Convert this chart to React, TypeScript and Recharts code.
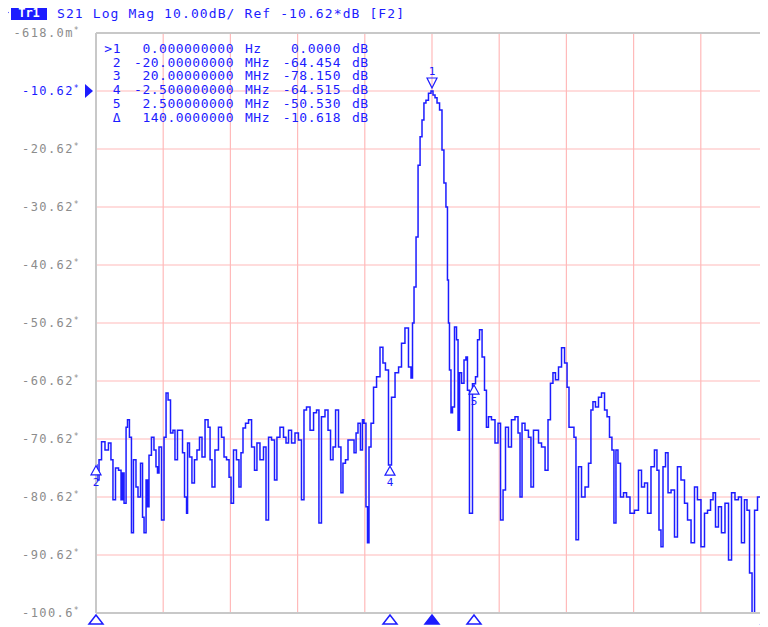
import { LineChart, Line, XAxis, YAxis, CartesianGrid, ReferenceLine, ReferenceDot } from 'recharts'

// S21 sweep, -20..+20 MHz around the carrier: [offset MHz, level dB]
const leftSkirt: [number, number][] = [
  [-20.0, -75.1], [-19.88, -77.7], [-19.76, -74.2], [-19.58, -71.1], [-19.35, -72.5], [-19.17, -71.3],
  [-19.05, -74.2], [-18.93, -81.1], [-18.75, -75.6], [-18.57, -76.0], [-18.45, -81.1], [-18.39, -76.5],
  [-18.27, -81.7], [-18.15, -68.6], [-18.1, -67.3], [-17.92, -70.3], [-17.86, -86.8], [-17.68, -74.2],
  [-17.56, -78.9], [-17.44, -80.6], [-17.26, -74.8], [-17.2, -84.1], [-17.08, -86.8], [-16.96, -77.7],
  [-16.9, -82.3], [-16.79, -73.4], [-16.61, -70.3], [-16.49, -72.5], [-16.37, -75.4], [-16.31, -76.5],
  [-16.19, -72.0], [-16.01, -84.6], [-15.89, -70.3], [-15.77, -62.7], [-15.65, -63.9], [-15.48, -69.6],
  [-15.36, -69.1], [-15.24, -74.2], [-15.06, -69.1], [-14.88, -69.1], [-14.82, -73.0], [-14.64, -80.6],
  [-14.58, -83.4], [-14.52, -71.3], [-14.35, -73.7], [-14.23, -78.2], [-14.05, -74.2], [-13.93, -72.5],
  [-13.75, -70.3], [-13.63, -73.7], [-13.39, -67.3], [-13.27, -68.6], [-13.15, -74.2], [-13.04, -78.9],
  [-12.8, -72.5], [-12.62, -68.6], [-12.44, -70.3], [-12.32, -73.7], [-12.14, -74.2], [-12.02, -77.2],
  [-11.9, -81.7], [-11.73, -72.5], [-11.55, -74.2], [-11.43, -78.9], [-11.31, -73.0], [-11.19, -68.7],
  [-11.01, -67.9], [-10.83, -67.3], [-10.65, -72.0], [-10.48, -76.0], [-10.36, -71.3], [-10.12, -74.2],
  [-9.94, -72.0], [-9.82, -84.6], [-9.64, -70.3], [-9.46, -70.8], [-9.29, -77.7], [-9.17, -70.3],
  [-8.93, -68.6], [-8.75, -70.3], [-8.63, -71.3], [-8.45, -69.1], [-8.27, -71.3], [-8.04, -69.6],
  [-7.86, -70.8], [-7.68, -81.1], [-7.56, -65.6], [-7.38, -65.1], [-7.14, -69.1], [-6.96, -66.1],
  [-6.79, -65.6], [-6.67, -85.1], [-6.49, -66.8], [-6.25, -65.6], [-6.13, -69.1], [-5.95, -74.2],
  [-5.83, -72.0], [-5.65, -65.6], [-5.48, -72.0], [-5.36, -79.9], [-5.24, -74.8], [-5.06, -74.2],
  [-4.94, -70.8], [-4.7, -70.8], [-4.58, -73.0], [-4.46, -69.6], [-4.35, -67.9], [-4.17, -72.5],
  [-4.11, -67.3], [-3.99, -67.9],
]

const mainLobe: [number, number][] = [
  [-3.87, -82.3], [-3.81, -88.5], [-3.69, -72.0], [-3.57, -67.9], [-3.39, -61.7], [-3.21, -59.9],
  [-2.98, -54.8], [-2.86, -57.5], [-2.68, -58.7], [-2.5, -75.1], [-2.32, -63.4], [-2.08, -59.2],
  [-1.9, -58.2], [-1.73, -54.1], [-1.49, -51.5], [-1.31, -58.2], [-1.19, -60.1], [-1.13, -50.6],
  [-1.01, -44.4], [-0.89, -35.8], [-0.77, -23.4], [-0.65, -18.5], [-0.54, -15.6], [-0.42, -12.7],
  [-0.3, -12.2], [-0.12, -11.0], [0, -10.62], [0.12, -11.3], [0.24, -11.8], [0.36, -12.7],
  [0.54, -13.9], [0.65, -20.8], [0.77, -26.5], [0.89, -30.6], [0.95, -43.2], [1.01, -50.6],
  [1.07, -58.7], [1.19, -66.1], [1.25, -65.1], [1.43, -51.3], [1.49, -53.5], [1.61, -69.1],
  [1.67, -59.2], [1.85, -61.0], [1.96, -57.0], [2.08, -56.5], [2.14, -62.2], [2.32, -83.4],
  [2.5, -61.1], [2.68, -59.9], [2.74, -53.5], [2.92, -51.8], [3.04, -56.5], [3.21, -62.2],
  [3.27, -68.6],
]

const rightSkirt: [number, number][] = [
  [3.45, -66.8], [3.63, -67.3], [3.87, -71.3], [3.99, -67.9], [4.17, -84.6], [4.29, -79.4],
  [4.46, -68.6], [4.64, -72.0], [4.82, -67.3], [5.06, -66.8], [5.18, -69.6], [5.3, -80.6],
  [5.42, -67.9], [5.65, -69.1], [5.83, -70.3], [5.95, -78.9], [6.13, -69.1], [6.25, -69.1],
  [6.43, -71.3], [6.61, -72.0], [6.85, -76.0], [6.96, -67.3], [7.14, -61.0], [7.26, -59.2],
  [7.44, -60.4], [7.62, -58.2], [7.8, -54.9], [7.98, -57.5], [8.1, -61.7], [8.21, -68.6],
  [8.39, -68.6], [8.51, -70.3], [8.63, -88.0], [8.81, -75.4], [8.99, -80.6], [9.23, -78.9],
  [9.4, -74.8], [9.52, -65.6], [9.64, -64.2], [9.82, -65.1], [10.0, -63.4], [10.18, -62.7],
  [10.36, -65.6], [10.48, -66.8], [10.65, -70.3], [10.77, -72.5], [10.89, -85.1], [11.01, -72.5],
  [11.13, -74.8], [11.31, -80.6], [11.49, -79.9], [11.67, -80.6], [11.9, -83.4], [12.2, -82.9],
  [12.38, -76.0], [12.56, -78.9], [12.74, -78.2], [12.92, -83.4], [13.15, -75.4], [13.33, -72.5],
  [13.45, -76.0], [13.57, -86.3], [13.69, -89.2], [13.81, -75.4], [13.99, -73.0], [14.11, -79.9],
  [14.35, -79.4], [14.52, -87.5], [14.7, -75.4], [14.94, -77.7], [15.12, -81.7], [15.3, -84.6],
  [15.54, -88.5], [15.71, -78.9], [15.89, -81.1], [16.13, -89.2], [16.31, -83.4], [16.49, -82.9],
  [16.67, -81.1], [16.79, -79.9], [16.96, -85.8], [17.14, -82.3], [17.32, -86.8], [17.56, -81.7],
  [17.74, -91.5], [17.92, -79.9], [18.15, -81.1], [18.33, -80.6], [18.51, -88.5], [18.69, -81.1],
  [18.81, -82.9], [18.99, -93.7], [19.11, -100.6], [19.29, -82.9], [19.46, -80.6], [19.7, -79.9],
  [19.82, -86.3], [20.0, -88.8],
]

const yTicks = [-0.618, -10.618, -20.618, -30.618, -40.618, -50.618, -60.618, -70.618, -80.618, -90.618, -100.618]
const yTickLabels = ['-618.0m', '-10.62', '-20.62', '-30.62', '-40.62', '-50.62', '-60.62', '-70.62', '-80.62', '-90.62', '-100.6']
const gridFreqs = [-16, -12, -8, -4, 0, 4, 8, 12, 16]
const refLevel = -10.618

const markerIds = ['1', '2', '3', '4', '5']
const markerFreqs = [0, -20, 20, -2.5, 2.5]
const markerDeltas = [0, -64.454, -78.15, -64.515, -50.53]

const tableLabels = ['>1', '2', '3', '4', '5', 'Δ']
const tableStim = ['0.000000000', '-20.00000000', '20.00000000', '-2.500000000', '2.500000000', '140.0000000']
const tableUnits = ['Hz', 'MHz', 'MHz', 'MHz', 'MHz', 'MHz']
const tableValues = ['0.0000', '-64.454', '-78.150', '-64.515', '-50.530', '-10.618']

const BLUE = '#1c1cff'
const MONO = '"DejaVu Sans Mono", "Liberation Mono", monospace'

const data = [...leftSkirt, ...mainLobe, ...rightSkirt].map(([f, db]) => ({ f, db }))

function YTick({ x, y, payload }: any) {
  const i = yTicks.findIndex(t => Math.abs(t - payload.value) < 1e-6)
  const isRef = Math.abs(payload.value - refLevel) < 1e-6
  return (
    <g>
      <text x={x - 16} y={y + 4} textAnchor="end" fill={isRef ? BLUE : '#8c8c8c'}
        fontFamily={MONO} fontSize={12} letterSpacing={1.4}>
        {yTickLabels[i]}
        <tspan fontSize={8} dy={-4}>*</tspan>
      </text>
      {isRef && <polygon points={`${x - 11},${y - 7} ${x - 3},${y} ${x - 11},${y + 7}`} fill={BLUE} />}
    </g>
  )
}

function StimTick({ x, y, payload }: any) {
  const active = payload.value === markerFreqs[0]
  return (
    <polygon
      points={`${x},${y + 2} ${x - 7},${y + 11} ${x + 7},${y + 11}`}
      fill={active ? BLUE : '#fff'}
      stroke={BLUE}
      strokeWidth={1.5}
    />
  )
}

function MarkerShape({ cx, cy, id }: any) {
  if (id === '1') {
    return (
      <g>
        <polygon points={`${cx},${cy - 3} ${cx - 5},${cy - 13} ${cx + 5},${cy - 13}`} fill="none" stroke={BLUE} strokeWidth={1.2} />
        <text x={cx} y={cy - 16} textAnchor="middle" fill={BLUE} fontFamily={MONO} fontSize={11}>{id}</text>
      </g>
    )
  }
  // marker at the right edge: keep its number inside the page
  const lx = cx > 760 ? cx - 2 : cx
  return (
    <g>
      <polygon points={`${cx},${cy + 1} ${cx - 5},${cy + 10} ${cx + 5},${cy + 10}`} fill="#fff" stroke={BLUE} strokeWidth={1.2} />
      <text x={lx} y={cy + 21} textAnchor={cx > 760 ? 'end' : 'middle'} fill={BLUE} fontFamily={MONO} fontSize={11}>{id}</text>
    </g>
  )
}

export default function App() {
  const rowY = (i: number) => 53 + i * 13.7
  return (
    <div style={{ position: 'relative', width: 768, height: 627, marginLeft: -8, marginTop: -8, background: '#fff', overflow: 'hidden' }}>
      <LineChart width={768} height={627} data={data} margin={{ top: 33, right: 0, bottom: 0, left: 0 }}>
        <CartesianGrid vertical={false} stroke="#ffbaba" strokeWidth={1.2} />
        {gridFreqs.map(f => (
          <ReferenceLine key={f} x={f} stroke="#ffbaba" strokeWidth={1.2} />
        ))}
        <ReferenceLine y={yTicks[0]} stroke="#c8c8c8" strokeWidth={2} />
        <XAxis
          dataKey="f"
          type="number"
          domain={[-20, 20]}
          ticks={markerFreqs}
          interval={0}
          tick={<StimTick />}
          tickLine={false}
          tickSize={0}
          tickMargin={0}
          height={14}
          axisLine={{ stroke: '#c8c8c8', strokeWidth: 2 }}
        />
        <YAxis
          type="number"
          domain={[yTicks[yTicks.length - 1], yTicks[0]]}
          ticks={yTicks}
          interval={0}
          tick={<YTick />}
          tickLine={false}
          tickSize={0}
          tickMargin={0}
          width={96}
          axisLine={{ stroke: '#c8c8c8', strokeWidth: 2 }}
        />
        <Line
          type="step"
          dataKey="db"
          stroke={BLUE}
          strokeWidth={1.5}
          dot={false}
          isAnimationActive={false}
        />
        {markerIds.map((id, i) => (
          <ReferenceDot
            key={id}
            x={markerFreqs[i]}
            y={refLevel + markerDeltas[i]}
            ifOverflow="visible"
            shape={(p: any) => <MarkerShape {...p} id={id} />}
          />
        ))}
      </LineChart>

      <svg width={768} height={627} style={{ position: 'absolute', left: 0, top: 0, pointerEvents: 'none' }}>
        <polygon points="2,7 9,12.5 2,18" fill={BLUE} />
        <rect x={11} y={5} width={36} height={15} fill={BLUE} />
        <text x={29} y={17} textAnchor="middle" fill="#fff" fontFamily={MONO} fontSize={12} fontWeight="bold">Tr1</text>
        <text x={57} y={18} fill={BLUE} fontFamily={MONO} fontSize={13} letterSpacing={1.1} style={{ whiteSpace: 'pre' }}>
          S21 Log Mag 10.00dB/ Ref -10.62*dB [F2]
        </text>
        {tableLabels.map((lab, i) => (
          <g key={lab} fill={BLUE} fontFamily={MONO} fontSize={13} letterSpacing={0.5}>
            <text x={121} y={rowY(i)} textAnchor="end">{lab}</text>
            <text x={234} y={rowY(i)} textAnchor="end">{tableStim[i]}</text>
            <text x={245} y={rowY(i)}>{tableUnits[i]}</text>
            <text x={341} y={rowY(i)} textAnchor="end">{tableValues[i]}</text>
            <text x={352} y={rowY(i)}>dB</text>
          </g>
        ))}
      </svg>
    </div>
  )
}
